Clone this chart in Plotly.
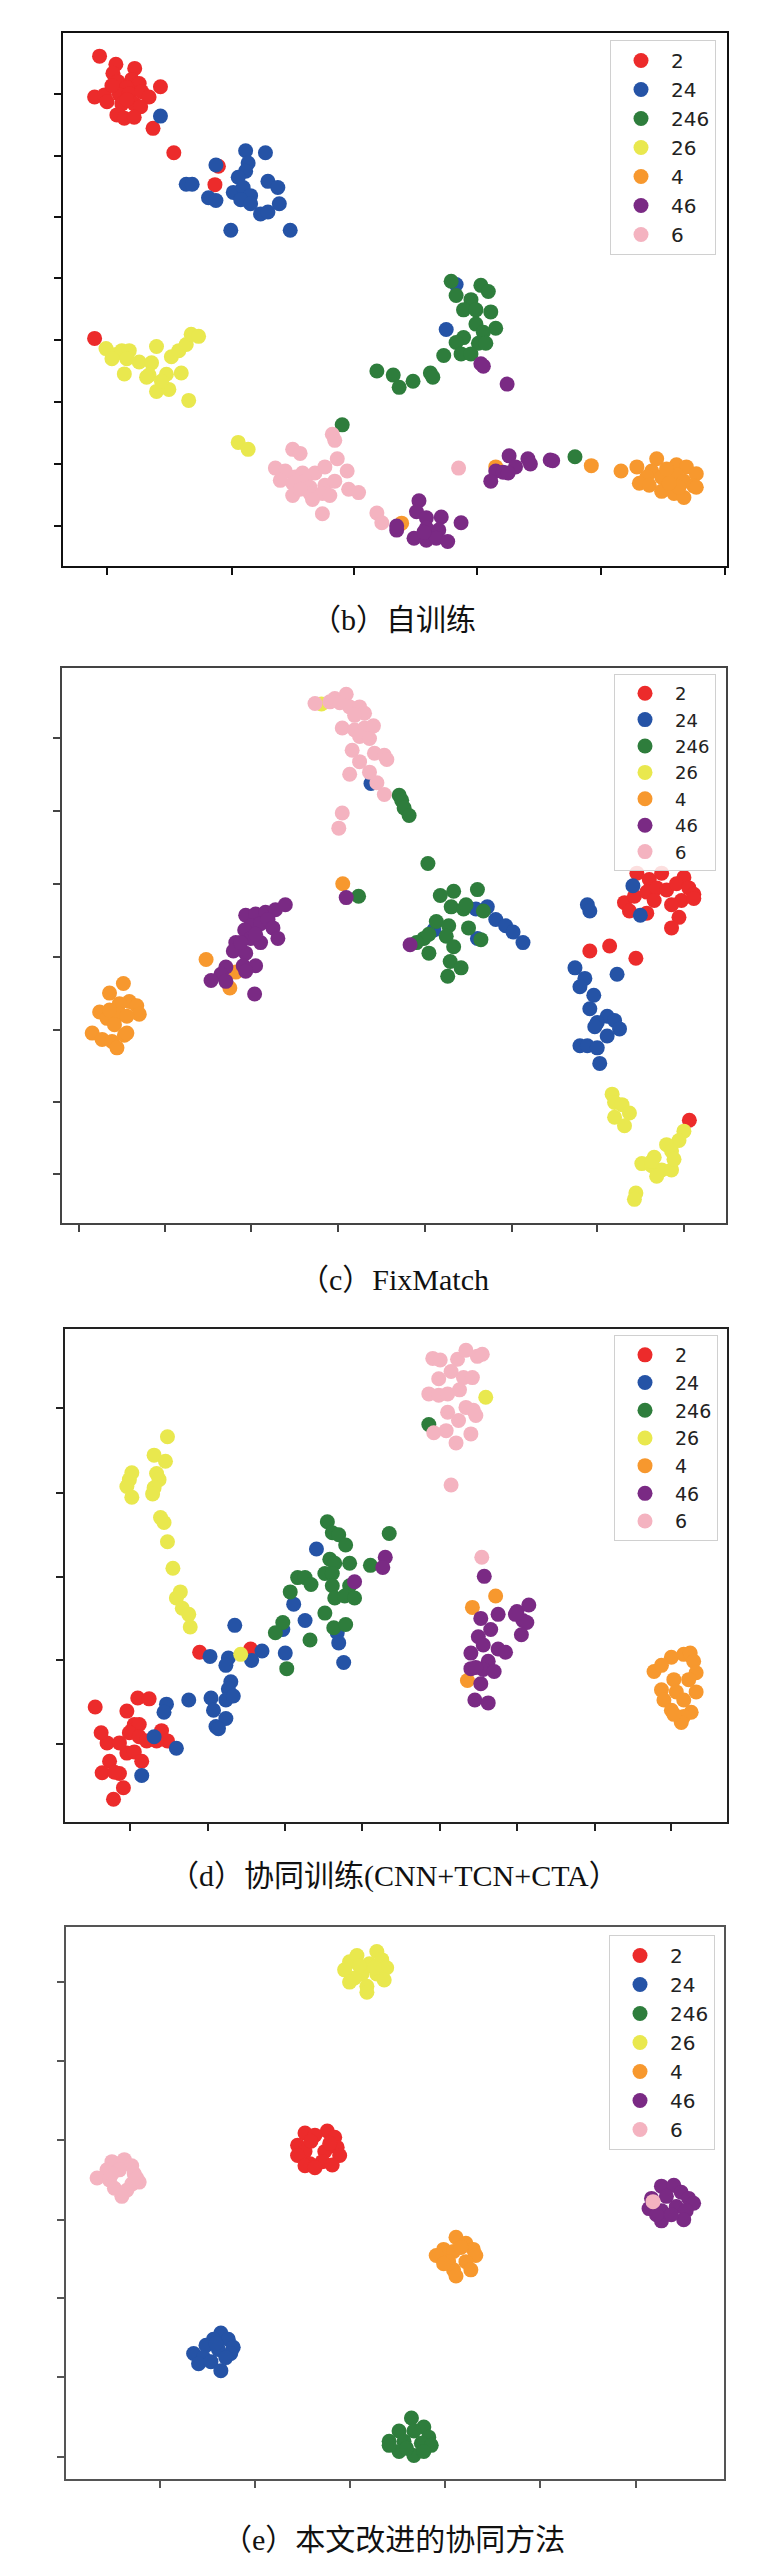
import plotly.graph_objects as go

# class labels and colours (same order as the legends)
labels = ['2', '24', '246', '26', '4', '46', '6']
colors = ['#ec2b2b', '#2553a6', '#2e7d3c', '#e9e84e', '#f7982e', '#7a2a84', '#f4b3c0']

# (b) self-training
b_2 = [(185,118),(218,138),(212,160),(256,148),(222,180),(250,175),(265,185),(240,195),(308,193),
       (175,218),(195,213),(225,212),(245,210),(270,205),(285,218),(200,230),(230,235),(255,235),
       (268,242),(220,262),(235,270),(255,268),(293,295),(335,355),(418,433),(425,388),(175,810),
       (240,225),(210,190)]
b_24 = [(308,265),(480,350),(520,355),(420,385),(485,380),(480,400),(465,415),(525,425),(545,440),
        (360,432),(372,432),(455,452),(475,440),(490,460),(405,465),(420,472),(470,470),(548,480),
        (490,480),(510,505),(525,500),(450,545),(570,545),(885,788),(905,678)]
b_246 = [(895,670),(955,680),(970,695),(905,705),(935,715),(920,740),(945,740),(975,745),(945,775),
         (985,785),(960,795),(920,808),(905,820),(950,822),(965,822),(880,852),(915,848),(935,848),
         (745,890),(778,900),(790,930),(818,915),(853,895),(858,905),(675,1022),(1145,1100)]
b_26 = [(198,835),(215,850),(230,840),(245,840),(210,860),(240,860),(265,868),(290,870),(300,830),
        (235,897),(285,900),(320,898),(350,895),(300,940),(325,935),(330,855),(345,840),(360,825),
        (370,800),(385,805),(365,962),(465,1065),(485,1082),(280,905),(310,915)]
b_4 = [(985,1125),(1178,1122),(1238,1135),(1270,1125),(1310,1105),(1300,1135),(1290,1150),(1275,1165),
       (1295,1170),(1320,1150),(1350,1120),(1370,1125),(1390,1142),(1350,1145),(1365,1160),(1385,1172),
       (1320,1185),(1345,1190),(1365,1200),(1390,1175),(1355,1175),(1335,1165),(1330,1130),(795,1263)]
b_46 = [(955,872),(960,878),(1008,922),(1012,1098),(1050,1105),(1055,1118),(1095,1108),(1100,1110),
        (985,1135),(1000,1138),(1025,1125),(975,1160),(1010,1140),(830,1208),(825,1235),(845,1250),
        (875,1248),(915,1262),(785,1280),(785,1270),(845,1275),(870,1280),(820,1300),(845,1305),
        (865,1300),(888,1308),(840,1285)]
b_6 = [(655,1045),(660,1060),(575,1082),(590,1092),(665,1105),(540,1128),(560,1135),(580,1150),
       (595,1140),(620,1140),(640,1125),(685,1135),(550,1158),(575,1165),(600,1160),(610,1175),
       (640,1170),(660,1160),(575,1195),(610,1190),(635,1190),(650,1195),(688,1180),(708,1188),
       (615,1205),(635,1240),(745,1238),(755,1262),(910,1128),(590,1180)]

# (c) FixMatch
c_2 = [(1270,535),(1295,550),(1320,535),(1365,545),(1245,605),(1265,590),(1290,580),(1310,570),
       (1330,575),(1350,560),(1375,570),(1385,585),(1360,600),(1340,610),(1305,600),(1290,630),
       (1255,625),(1355,640),(1340,665),(1385,595),(1175,720),(1215,708),(1268,737),(1376,1122)]
c_24 = [(733,322),(860,670),(1262,565),(1277,635),(1170,610),(1175,625),(945,620),(968,615),
        (985,645),(1005,660),(1020,675),(1040,700),(948,690),(1145,760),(1165,785),(1155,805),
        (1230,775),(1183,825),(1175,857),(1210,875),(1190,890),(1225,885),(1235,905),(1210,922),
        (1155,945),(1170,945),(1190,950),(1195,987),(1185,900)]
c_246 = [(790,350),(795,362),(800,380),(810,398),(848,512),(708,590),(873,588),(900,578),(948,574),
         (895,615),(920,620),(925,610),(960,625),(865,650),(890,660),(930,665),(840,690),(825,700),
         (850,680),(885,685),(900,710),(850,725),(955,693),(893,745),(915,760),(888,780)]
c_26 = [(633,133),(1220,1060),(1225,1080),(1240,1085),(1255,1105),(1225,1115),(1245,1135),
        (1365,1148),(1355,1170),(1330,1180),(1340,1195),(1305,1210),(1280,1225),(1300,1230),
        (1320,1240),(1340,1240),(1310,1255),(1268,1295),(1265,1310),(1300,1220),(1345,1215)]
c_4 = [(676,560),(400,740),(460,770),(448,808),(233,797),(205,820),(245,840),(225,845),(260,850),
       (265,870),(185,865),(200,880),(225,870),(240,875),(215,895),(170,915),(190,930),(210,935),
       (235,920),(240,915),(220,950),(205,860)]
c_46 = [(683,593),(812,705),(480,635),(500,632),(520,628),(540,622),(560,610),(490,660),(510,655),
        (525,645),(535,665),(478,670),(460,700),(490,690),(510,700),(545,690),(455,720),(480,725),
        (440,758),(475,755),(500,755),(480,768),(430,775),(410,790),(440,792),(498,822),(470,700),
        (500,680)]
c_6 = [(620,132),(650,128),(660,120),(683,110),(670,130),(690,140),(710,140),(720,155),(700,160),
       (675,190),(700,195),(720,190),(738,185),(710,210),(730,215),(695,243),(740,250),(760,255),
       (765,265),(710,270),(730,295),(690,300),(745,320),(760,348),(675,392),(668,428)]

# (d) co-training (CNN+TCN+CTA)
d_2 = [(387,868),(490,860),(176,1002),(240,1012),(262,980),(285,982),(255,1045),(250,1060),
       (265,1045),(245,1065),(265,1075),(280,1085),(310,1060),(322,1085),(200,1090),(188,1065),
       (240,1115),(255,1112),(270,1135),(205,1135),(190,1163),(225,1165),(215,1162),(233,1200),
       (213,1228),(225,1090),(300,1085)]
d_24 = [(623,615),(577,750),(600,790),(555,812),(665,820),(668,845),(678,893),(560,870),(513,865),
        (492,888),(458,802),(445,882),(440,900),(408,878),(450,940),(445,958),(440,985),(455,975),
        (410,980),(415,1010),(420,1050),(440,1030),(425,1055),(365,985),(320,995),(315,1015),
        (295,1075),(340,1103),(270,1170)]
d_246 = [(850,310),(645,548),(655,575),(668,580),(682,605),(770,577),(650,640),(660,650),(690,650),
         (640,675),(655,675),(585,685),(600,685),(612,702),(570,720),(655,705),(690,705),(660,735),
         (680,730),(700,735),(732,655),(640,772),(555,795),(540,820),(658,808),(682,800),(610,838),
         (563,908)]
d_26 = [(965,243),(322,340),(295,385),(318,400),(250,428),(245,445),(300,430),(305,445),(240,462),
        (295,465),(250,488),(292,480),(308,538),(315,550),(322,597),(333,662),(348,720),(340,735),
        (352,760),(365,775),(368,806),(470,873)]
d_4 = [(985,730),(938,758),(928,937),(1340,880),(1365,873),(1378,870),(1305,915),(1320,900),
       (1385,890),(1390,918),(1345,935),(1375,935),(1320,960),(1350,965),(1390,965),(1325,985),
       (1365,985),(1340,1010),(1380,1015),(1365,1025),(1360,1040),(1345,1020)]
d_46 = [(700,695),(762,635),(757,660),(962,682),(955,785),(990,775),(975,812),(950,830),(960,850),
        (935,870),(990,860),(1005,868),(970,890),(935,908),(960,910),(982,915),(955,945),(943,985),
        (970,992),(1028,768),(1040,790),(1052,752),(1048,795),(1037,825),(1025,775),(945,905)]
d_6 = [(858,148),(873,152),(895,180),(908,150),(925,128),(948,143),(958,138),(870,198),(920,195),
       (938,195),(850,235),(870,238),(888,235),(912,225),(925,268),(940,275),(945,288),(888,280),
       (910,300),(860,330),(885,325),(905,355),(935,333),(895,458),(957,635)]

# (e) improved co-training
e_2 = [(600,500),(645,495),(620,505),(660,510),(585,530),(665,535),(600,545),(640,545),(585,555),
       (670,555),(610,575),(635,570),(600,580),(655,578),(620,585),(612,520),(650,525)]
e_24 = [(430,990),(445,1005),(415,1005),(455,1025),(400,1020),(375,1040),(425,1030),(450,1040),
        (395,1050),(385,1065),(410,1060),(430,1082),(440,1050),(420,1015)]
e_246 = [(815,1198),(840,1220),(790,1230),(820,1230),(850,1245),(770,1255),(800,1255),(835,1260),
         (855,1265),(790,1280),(820,1290),(770,1265),(805,1272),(840,1280)]
e_26 = [(745,55),(705,65),(755,75),(690,80),(730,85),(765,95),(680,100),(715,110),(745,110),
        (700,120),(760,125),(725,140),(690,130),(725,155),(740,95),(710,90)]
e_4 = [(905,755),(925,770),(940,785),(880,785),(900,790),(865,800),(945,800),(890,815),(925,815),
       (935,835),(900,835),(905,850),(880,820),(915,780)]
e_46 = [(1320,630),(1345,628),(1360,645),(1300,660),(1330,655),(1375,660),(1385,672),(1295,685),
        (1320,690),(1350,680),(1370,690),(1320,715),(1365,712),(1340,700),(1310,700)]
e_6 = [(210,570),(235,565),(250,580),(200,590),(225,590),(255,600),(180,610),(205,615),(265,620),
       (215,635),(240,640),(230,655),(250,625),(210,600),(260,610),(1303,668)]

panels = [
    dict(data=[b_2, b_24, b_246, b_26, b_4, b_46, b_6], caption='（b）自训练',
         xr=[112, 1452], yr=[1368, 62],
         xt=[200, 452, 698, 948, 1198, 1448], yt=[210, 362, 512, 663, 815, 965, 1117, 1270],
         xd=[55.4, 719], yd=[25.3, 558], cap_y=612, leg=(708, 32), fs=20, line='#111111'),
    dict(data=[c_2, c_24, c_246, c_26, c_4, c_46, c_6], caption='（c）FixMatch',
         xr=[108, 1450], yr=[1365, 48],
         xt=[143, 317, 490, 666, 843, 1017, 1190, 1365], yt=[215, 388, 560, 735, 907, 1078, 1250],
         xd=[53.5, 718], yd=[660.2, 1214.5], cap_y=1271, leg=(708, 666), fs=18, line='#444444'),
    dict(data=[d_2, d_24, d_246, d_26, d_4, d_46, d_6], caption='（d）协同训练(CNN+TCN+CTA）',
         xr=[115, 1453], yr=[1283, 75],
         xt=[247, 403, 560, 716, 873, 1028, 1185, 1340], yt=[270, 477, 683, 888, 1092],
         xd=[57, 719.3], yd=[1320.6, 1813.7], cap_y=1868, leg=(710, 1327), fs=19, line='#222222'),
    dict(data=[e_2, e_24, e_246, e_26, e_4, e_46, e_6], caption='（e）本文改进的协同方法',
         xr=[118, 1447], yr=[1348, -5],
         xt=[307, 498, 690, 882, 1075, 1268], yt=[130, 323, 518, 712, 905, 1098, 1293],
         xd=[58.4, 716.3], yd=[1919, 2471.2], cap_y=2531, leg=(707, 1927), fs=20, line='#555555'),
]

W, H = 776, 2561
fig = go.Figure()
layout = dict(width=W, height=H, margin=dict(l=0, r=0, t=0, b=0),
              paper_bgcolor='white', plot_bgcolor='white', showlegend=True, annotations=[])

for i, p in enumerate(panels):
    n = '' if i == 0 else str(i + 1)
    leg = 'legend' + n
    for lab, col, pts in zip(labels, colors, p['data']):
        fig.add_trace(go.Scatter(
            x=[q[0] for q in pts], y=[q[1] for q in pts], mode='markers', name=lab,
            marker=dict(color=col, size=15, line=dict(width=0)),
            xaxis='x' + n, yaxis='y' + n, legend=leg))
    ax = dict(showline=True, mirror=True, linecolor=p['line'], linewidth=2, showgrid=False,
              zeroline=False, ticks='outside', ticklen=7, tickwidth=2, tickcolor=p['line'],
              showticklabels=False)
    layout['xaxis' + n] = dict(ax, range=p['xr'], tickvals=p['xt'],
                               domain=[p['xd'][0] / W, p['xd'][1] / W], anchor='y' + n)
    layout['yaxis' + n] = dict(ax, range=p['yr'], tickvals=p['yt'],
                               domain=[1 - p['yd'][1] / H, 1 - p['yd'][0] / H], anchor='x' + n)
    layout[leg] = dict(x=p['leg'][0] / W, y=1 - p['leg'][1] / H, xanchor='right', yanchor='top',
                       bgcolor='rgba(255,255,255,0.85)', bordercolor='#d0d0d0', borderwidth=1,
                       font=dict(family='DejaVu Sans', size=p['fs'], color='#222222'),
                       itemwidth=50)
    layout['annotations'].append(dict(
        text=p['caption'], x=0.497, y=1 - p['cap_y'] / H, xref='paper', yref='paper',
        xanchor='center', yanchor='middle', showarrow=False,
        font=dict(family='Liberation Serif, Noto Sans CJK SC', size=30, color='#111111')))

fig.update_layout(**layout)
fig.write_html('out.html')
